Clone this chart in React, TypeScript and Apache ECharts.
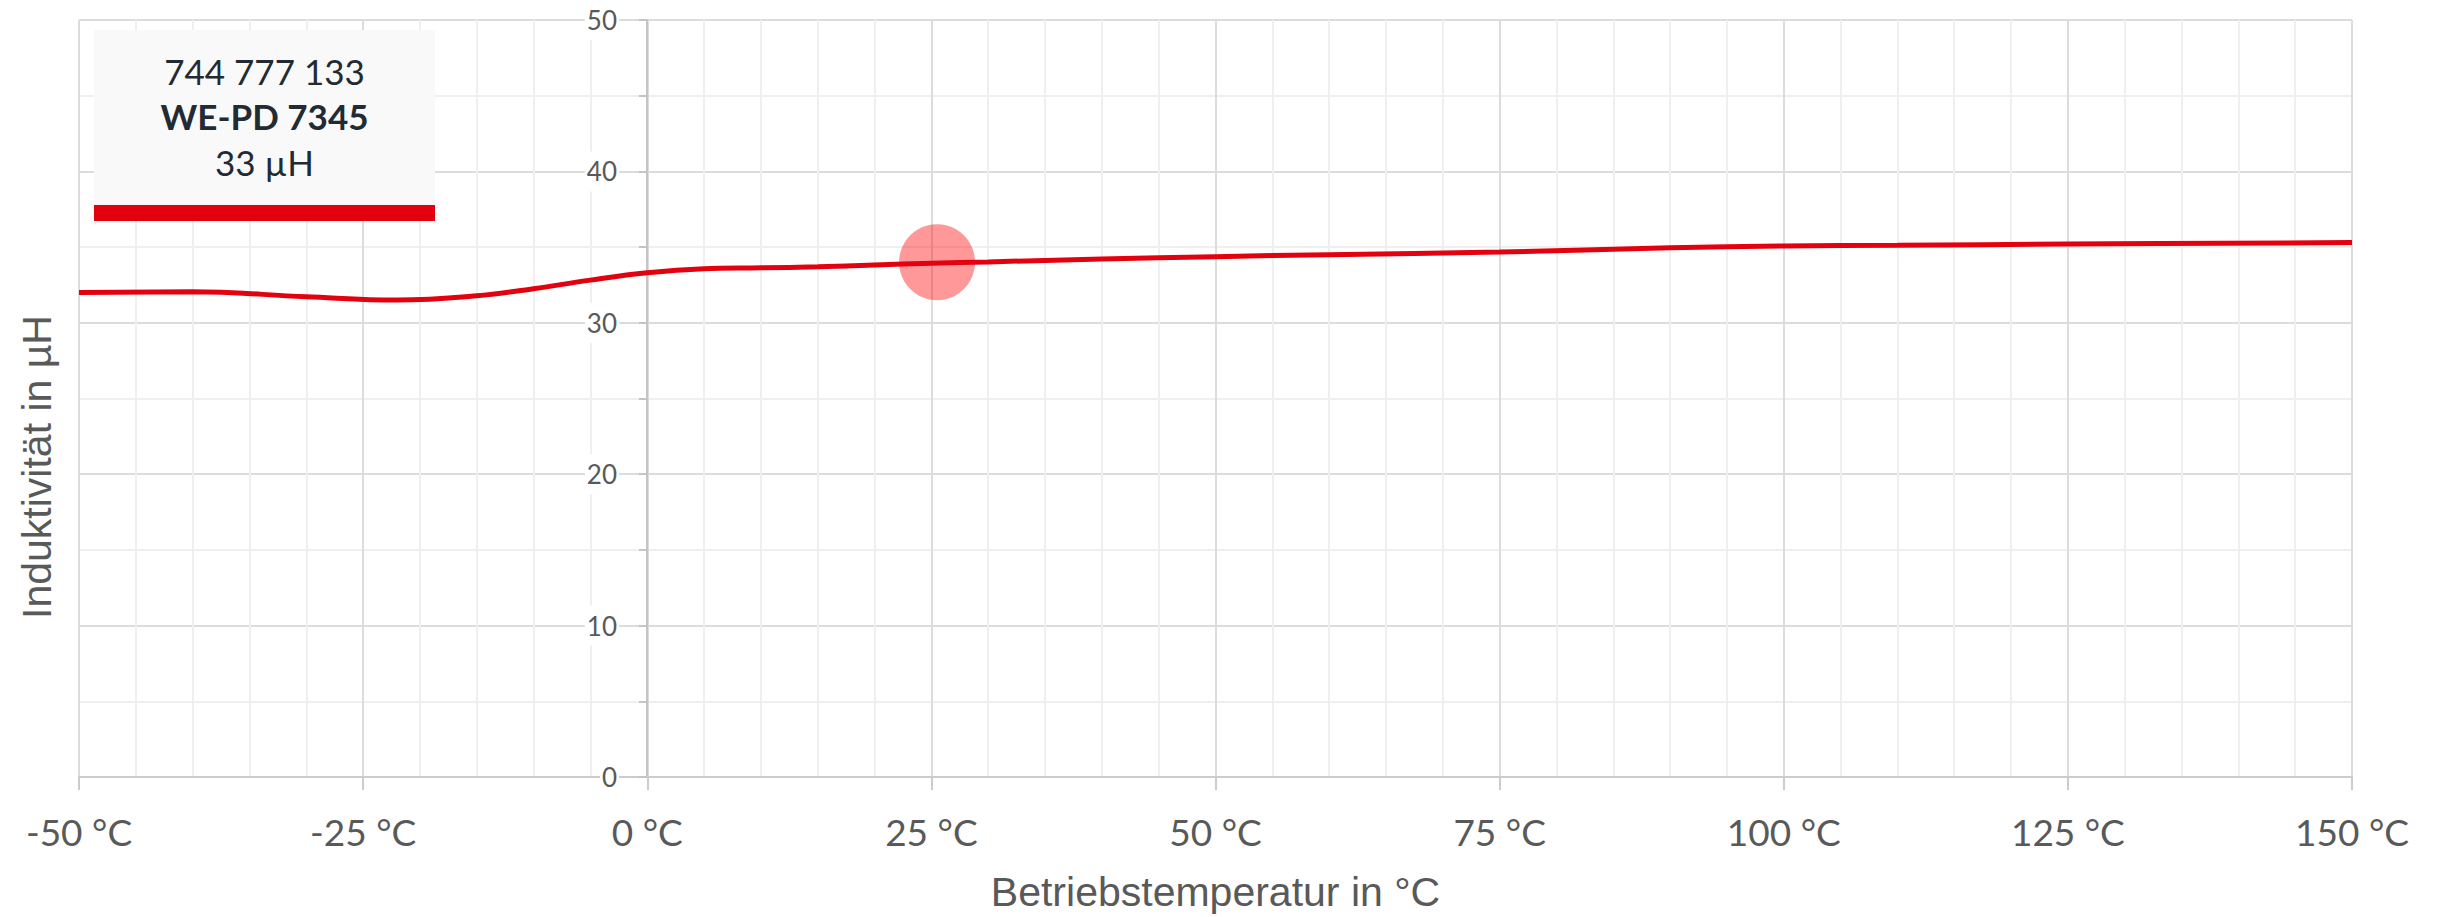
import React, { useEffect, useRef } from "react";
import * as echarts from "echarts";

const temperatures = [-50, -40, -30, -22, -15, -10, -5, 0, 5, 10, 15, 20, 25, 30, 40, 50, 60, 75, 90, 100, 110, 125, 150];
const inductance = [32.0, 32.05, 31.72, 31.5, 31.78, 32.25, 32.82, 33.3, 33.57, 33.63, 33.7, 33.82, 33.93, 34.02, 34.22, 34.37, 34.5, 34.67, 34.95, 35.07, 35.12, 35.2, 35.3];
const markerPoint = [25.5, 34.0];
const legendLines = ["744 777 133", "WE-PD 7345", "33 µH"];
const xAxisName = "Betriebstemperatur in °C";
const yAxisName = "Induktivität in µH";

export default function App() {
  const ref = useRef<HTMLDivElement>(null);
  useEffect(() => {
    if (!ref.current) return;
    const chart = echarts.init(ref.current, null, { renderer: "svg" });
    const labelColor = "#595959";
    const option: any = {
      animation: false,
      backgroundColor: "#ffffff",
      grid: { left: 79, right: 86, top: 19, bottom: 138, containLabel: false },
      xAxis: {
        type: "value",
        min: -50,
        max: 150,
        interval: 25,
        name: xAxisName,
        nameLocation: "middle",
        nameGap: 94,
        nameTextStyle: { fontFamily: "Liberation Sans", fontSize: 41, color: labelColor },
        axisLine: { show: true, onZero: false, lineStyle: { color: "#cccccc", width: 2 } },
        axisTick: { show: true, length: 13, lineStyle: { color: "#cccccc", width: 2 } },
        axisLabel: {
          margin: 36,
          fontFamily: "Lato",
          fontSize: 37,
          color: labelColor,
          formatter: (v: number) => `${v} °C`,
        },
        splitLine: { show: true, lineStyle: { color: "#dcdcdc", width: 2 } },
        minorTick: { show: false, splitNumber: 5 },
        minorSplitLine: { show: true, lineStyle: { color: "#efefef", width: 2 } },
      },
      yAxis: {
        type: "value",
        min: 0,
        max: 50,
        interval: 10,
        offset: -568,
        axisLine: { show: true, onZero: false, lineStyle: { color: "#c4c4c4", width: 2 } },
        axisTick: { show: true, length: 8, lineStyle: { color: "#c4c4c4", width: 2 } },
        minorTick: { show: true, splitNumber: 2, length: 8, lineStyle: { color: "#c4c4c4", width: 2 } },
        axisLabel: {
          margin: 28,
          fontFamily: "Lato",
          fontSize: 26,
          color: labelColor,
          backgroundColor: "#ffffff",
          padding: [7, 2],
        },
        splitLine: { show: true, lineStyle: { color: "#dcdcdc", width: 2 } },
        minorSplitLine: { show: true, lineStyle: { color: "#efefef", width: 2 } },
      },
      series: [
        {
          type: "scatter",
          data: [markerPoint],
          symbol: "circle",
          symbolSize: 76,
          itemStyle: { color: "rgba(255,0,0,0.5)" },
          z: 2,
        },
        {
          type: "line",
          data: temperatures.map((t, i) => [t, inductance[i]]),
          smooth: 0.4,
          showSymbol: false,
          lineStyle: { color: "#e3000f", width: 5 },
          z: 3,
        },
      ],
      graphic: [
        {
          type: "rect",
          shape: { x: 94, y: 30, width: 341, height: 175 },
          style: { fill: "#f9f9f9" },
          z: 100,
        },
        {
          type: "rect",
          shape: { x: 94, y: 205, width: 341, height: 16 },
          style: { fill: "#e3000f" },
          z: 100,
        },
        {
          type: "text",
          x: 264.5,
          y: 71,
          style: { text: legendLines[0], fontFamily: "Lato", fontSize: 35, fill: "#222a33", textAlign: "center", textVerticalAlign: "middle" },
          z: 101,
        },
        {
          type: "text",
          x: 264.5,
          y: 116,
          style: { text: legendLines[1], fontFamily: "Lato", fontWeight: "bold", fontSize: 35, fill: "#222a33", textAlign: "center", textVerticalAlign: "middle" },
          z: 101,
        },
        {
          type: "text",
          x: 264.5,
          y: 162,
          style: { text: legendLines[2], fontFamily: "Lato", fontSize: 35, fill: "#222a33", textAlign: "center", textVerticalAlign: "middle" },
          z: 101,
        },
        {
          type: "text",
          x: 37,
          y: 467,
          rotation: Math.PI / 2,
          style: { text: yAxisName, fontFamily: "Liberation Sans", fontSize: 41, fill: labelColor, textAlign: "center", textVerticalAlign: "middle" },
          z: 101,
        },
      ],
    };
    chart.setOption(option);
    return () => chart.dispose();
  }, []);
  return <div ref={ref} style={{ position: "absolute", left: 0, top: 0, width: 2438, height: 917 }} />;
}
